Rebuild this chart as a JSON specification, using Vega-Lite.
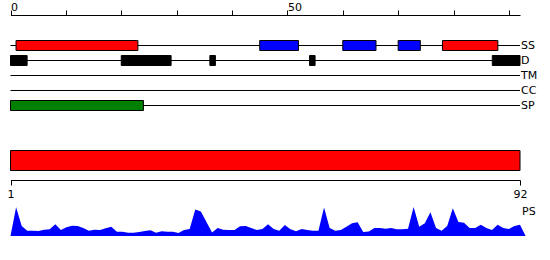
{
  "$schema": "https://vega.github.io/schema/vega-lite/v6.json",
  "width": 550,
  "height": 260,
  "autosize": "none",
  "padding": 0,
  "background": "white",
  "config": {"view": {"stroke": null}, "font": "DejaVu Sans"},
  "datasets": {
    "tracks": [
      {"track": "SS", "start": 0, "end": 92},
      {"track": "D", "start": 0, "end": 92},
      {"track": "TM", "start": 0, "end": 92},
      {"track": "CC", "start": 0, "end": 92},
      {"track": "SP", "start": 0, "end": 92}
    ],
    "features": [
      {"track": "SS", "kind": "helix", "start": 1, "end": 23},
      {"track": "SS", "kind": "strand", "start": 45, "end": 52},
      {"track": "SS", "kind": "strand", "start": 60, "end": 66},
      {"track": "SS", "kind": "strand", "start": 70, "end": 74},
      {"track": "SS", "kind": "helix", "start": 78, "end": 88},
      {"track": "D", "kind": "disorder", "start": 0, "end": 3},
      {"track": "D", "kind": "disorder", "start": 20, "end": 29},
      {"track": "D", "kind": "disorder", "start": 36, "end": 37},
      {"track": "D", "kind": "disorder", "start": 54, "end": 55},
      {"track": "D", "kind": "disorder", "start": 87, "end": 92},
      {"track": "SP", "kind": "signal", "start": 0, "end": 24}
    ],
    "protein": [{"name": "protein", "start": 1, "end": 92}],
    "pslabel": [{"pos": 92, "v": 24, "label": "PS"}],
    "ps": [
      {"pos": 1, "v": 0}, {"pos": 2, "v": 28.7}, {"pos": 3, "v": 10}, {"pos": 4, "v": 5.3},
      {"pos": 5, "v": 5.3}, {"pos": 6, "v": 5}, {"pos": 7, "v": 6.3}, {"pos": 8, "v": 6.7},
      {"pos": 9, "v": 11.7}, {"pos": 10, "v": 6}, {"pos": 11, "v": 8.7}, {"pos": 12, "v": 10.3},
      {"pos": 13, "v": 10}, {"pos": 14, "v": 8}, {"pos": 15, "v": 5.3}, {"pos": 16, "v": 6.3},
      {"pos": 17, "v": 6}, {"pos": 18, "v": 7.7}, {"pos": 19, "v": 9.3}, {"pos": 20, "v": 4.3},
      {"pos": 21, "v": 4.3}, {"pos": 22, "v": 3.3}, {"pos": 23, "v": 3.3}, {"pos": 24, "v": 4},
      {"pos": 25, "v": 5}, {"pos": 26, "v": 5.7}, {"pos": 27, "v": 3.3}, {"pos": 28, "v": 4.7},
      {"pos": 29, "v": 4.3}, {"pos": 30, "v": 4.3}, {"pos": 31, "v": 3}, {"pos": 32, "v": 6},
      {"pos": 33, "v": 7}, {"pos": 34, "v": 26.5}, {"pos": 35, "v": 24.5}, {"pos": 36, "v": 14},
      {"pos": 37, "v": 3.5}, {"pos": 38, "v": 8}, {"pos": 39, "v": 6.3}, {"pos": 40, "v": 6},
      {"pos": 41, "v": 6}, {"pos": 42, "v": 9.7}, {"pos": 43, "v": 10}, {"pos": 44, "v": 8},
      {"pos": 45, "v": 6}, {"pos": 46, "v": 7}, {"pos": 47, "v": 11.7}, {"pos": 48, "v": 7},
      {"pos": 49, "v": 5.3}, {"pos": 50, "v": 11}, {"pos": 51, "v": 6.7}, {"pos": 52, "v": 4.7},
      {"pos": 53, "v": 7}, {"pos": 54, "v": 6}, {"pos": 55, "v": 5.3}, {"pos": 56, "v": 5.3},
      {"pos": 57, "v": 28.5}, {"pos": 58, "v": 8}, {"pos": 59, "v": 5.3}, {"pos": 60, "v": 6},
      {"pos": 61, "v": 9.3}, {"pos": 62, "v": 12.7}, {"pos": 63, "v": 13.7}, {"pos": 64, "v": 4},
      {"pos": 65, "v": 4.5}, {"pos": 66, "v": 8}, {"pos": 67, "v": 8}, {"pos": 68, "v": 7.3},
      {"pos": 69, "v": 8}, {"pos": 70, "v": 6.7}, {"pos": 71, "v": 6.7}, {"pos": 72, "v": 7.3},
      {"pos": 73, "v": 29}, {"pos": 74, "v": 9.3}, {"pos": 75, "v": 12.7}, {"pos": 76, "v": 23.7},
      {"pos": 77, "v": 8}, {"pos": 78, "v": 5.3}, {"pos": 79, "v": 10}, {"pos": 80, "v": 27.7},
      {"pos": 81, "v": 14}, {"pos": 82, "v": 13.3}, {"pos": 83, "v": 8}, {"pos": 84, "v": 8},
      {"pos": 85, "v": 11.3}, {"pos": 86, "v": 8}, {"pos": 87, "v": 6}, {"pos": 88, "v": 11.3},
      {"pos": 89, "v": 8}, {"pos": 90, "v": 7}, {"pos": 91, "v": 10}, {"pos": 92, "v": 11.3},
      {"pos": 93, "v": 0}
    ]
  },
  "layer": [
    {
      "layer": [
        {
          "data": {"name": "tracks"},
          "mark": {"type": "rule", "color": "black", "strokeWidth": 1},
          "encoding": {
            "x": {
              "field": "start", "type": "quantitative",
              "scale": {"domain": [0, 92], "range": [10.5, 520], "nice": false, "zero": false},
              "axis": {
                "orient": "top", "offset": -15, "title": null, "grid": false,
                "values": [0, 10, 20, 30, 40, 50, 60, 70, 80, 90],
                "labelExpr": "datum.value % 50 == 0 ? datum.label : ''",
                "labelAlign": "left", "labelBaseline": "alphabetic", "labelPadding": 0,
                "labelFlush": false, "labelOverlap": false,
                "tickSize": 5, "tickColor": "black", "domainColor": "black",
                "labelColor": "black", "labelFont": "DejaVu Sans", "labelFontSize": 11
              }
            },
            "x2": {"field": "end"},
            "y": {
              "field": "track", "type": "nominal",
              "scale": {"type": "point", "domain": ["SS", "D", "TM", "CC", "SP"], "range": [45.5, 105.5], "padding": 0},
              "axis": null
            }
          }
        },
        {
          "data": {"name": "features"},
          "mark": {"type": "bar", "height": 10, "stroke": "black", "strokeWidth": 1},
          "encoding": {
            "x": {"field": "start", "type": "quantitative"},
            "x2": {"field": "end"},
            "y": {"field": "track", "type": "nominal"},
            "color": {
              "field": "kind", "type": "nominal",
              "scale": {"domain": ["helix", "strand", "disorder", "signal"], "range": ["#ff0000", "#0000ff", "#000000", "#008000"]},
              "legend": null
            }
          }
        },
        {
          "data": {"name": "tracks"},
          "mark": {"type": "text", "align": "left", "baseline": "middle", "dx": 1, "font": "DejaVu Sans", "fontSize": 11, "color": "black"},
          "encoding": {
            "x": {"field": "end", "type": "quantitative"},
            "y": {"field": "track", "type": "nominal"},
            "text": {"field": "track"}
          }
        }
      ]
    },
    {
      "layer": [
        {
          "data": {"name": "protein"},
          "mark": {"type": "rect", "color": "#ff0000", "stroke": "black", "strokeWidth": 1},
          "encoding": {
            "x": {
              "field": "start", "type": "quantitative",
              "scale": {"domain": [1, 92], "range": [10.5, 520], "nice": false, "zero": false},
              "axis": {
                "orient": "bottom", "offset": -80, "title": null, "grid": false,
                "values": [1, 92], "labelFlush": false, "labelPadding": 3,
                "tickSize": 5, "tickColor": "black", "domainColor": "black",
                "labelColor": "black", "labelFont": "DejaVu Sans", "labelFontSize": 11
              }
            },
            "x2": {"field": "end"},
            "y": {
              "field": "name", "type": "nominal",
              "scale": {"type": "band", "range": [150.5, 170.5], "paddingInner": 0, "paddingOuter": 0},
              "axis": null
            }
          }
        },
        {
          "layer": [
            {
              "data": {"name": "ps"},
              "mark": {"type": "area", "color": "#0000ff", "interpolate": "linear"},
              "encoding": {
                "x": {"field": "pos", "type": "quantitative"},
                "y": {
                  "field": "v", "type": "quantitative",
                  "scale": {"domain": [0, 30], "range": [236, 206], "nice": false, "zero": true},
                  "axis": null
                }
              }
            },
            {
              "mark": {"type": "rule", "color": "#0000ff", "strokeWidth": 1},
              "encoding": {
                "x": {"datum": 1, "type": "quantitative"},
                "x2": {"datum": 97.4},
                "y": {"datum": 0, "type": "quantitative"}
              }
            },
            {
              "data": {"name": "pslabel"},
              "mark": {"type": "text", "align": "left", "baseline": "middle", "dx": 2, "font": "DejaVu Sans", "fontSize": 11, "color": "black"},
              "encoding": {
                "x": {"field": "pos", "type": "quantitative"},
                "y": {"field": "v", "type": "quantitative"},
                "text": {"field": "label"}
              }
            }
          ]
        }
      ],
      "resolve": {"scale": {"y": "independent"}}
    }
  ],
  "resolve": {"scale": {"x": "independent", "y": "independent", "color": "independent"}, "axis": {"x": "independent"}}
}
